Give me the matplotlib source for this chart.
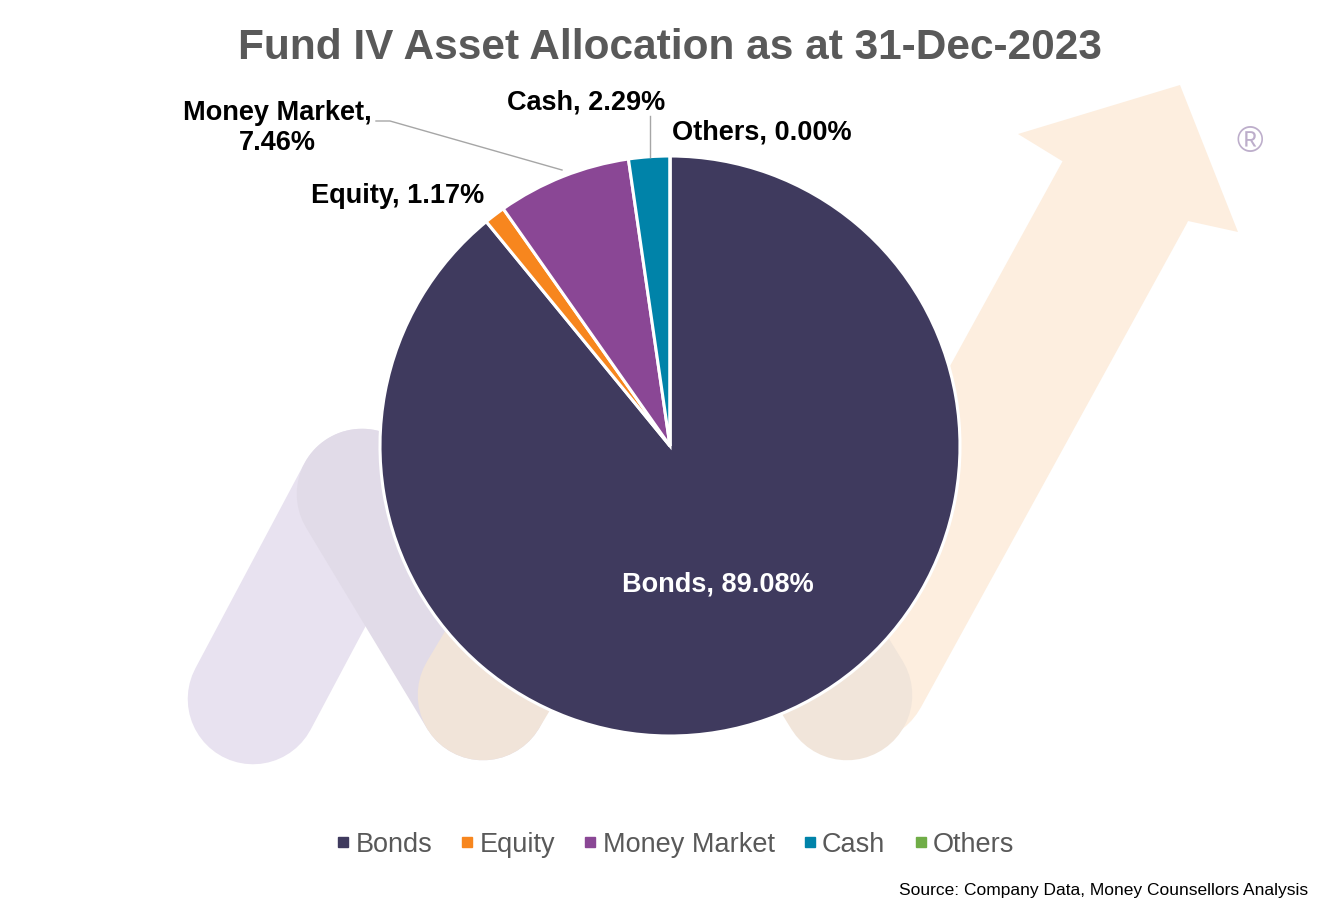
import matplotlib.pyplot as plt
from matplotlib.lines import Line2D

# data
categories = ['Bonds', 'Equity', 'Money Market', 'Cash', 'Others']
values = [89.08, 1.17, 7.46, 2.29, 0.00]
colors = ['#3F3A5E', '#F7861E', '#8A4795', '#0083A9', '#70AD47']
label_text = ['Bonds, 89.08%', 'Equity, 1.17%', 'Money Market,\n7.46%',
              'Cash, 2.29%', 'Others, 0.00%']

W, H = 1343, 920
plt.rcParams['font.family'] = ['Liberation Sans', 'DejaVu Sans']

fig = plt.figure(figsize=(W / 100, H / 100), dpi=100)
ax = fig.add_axes([0, 0, 1, 1])
ax.set_xlim(0, W)
ax.set_ylim(0, H)
ax.axis('off')

# faint logo watermark behind the pie (pixel coords, y from top)
def stroke(p0, p1, col, lw=94):
    ax.plot([p0[0], p1[0]], [H - p0[1], H - p1[1]], color=col,
            lw=lw, solid_capstyle='round', zorder=0)

stroke((253, 700), (362, 495), '#E8E2F0')
stroke((362, 495), (483, 696), '#E1DBE8')
stroke((483, 696), (600, 500), '#F1E4D9')
stroke((860, 675), (1126, 191), '#FDEEDF', lw=100)
stroke((847, 696), (720, 490), '#F1E5DA')
head_x = [1180, 1018, 1062, 1188, 1238]
head_y = [86, 135, 162, 222, 233]
ax.fill(head_x, [H - v for v in head_y], color='#FDEEDF', lw=0, zorder=0)
ax.text(1250, H - 143, '\u00ae', fontsize=26, color='#BDAECB',
        ha='center', va='center', zorder=0)

# pie
cx, cy, R = 670, H - 447, 290
wedges, _ = ax.pie(values, colors=colors, startangle=90, counterclock=False,
                   center=(cx, cy), radius=R,
                   wedgeprops=dict(edgecolor='white', linewidth=2.2))
ax.set_xlim(0, W)
ax.set_ylim(0, H)
ax.set_aspect('equal')

# data labels
label_pos = [(718, 585), (398, 196), (277, 128), (586, 102), (762, 133)]
for i, (x, y) in enumerate(label_pos):
    ax.text(x, H - y, label_text[i], fontsize=19.5, fontweight='bold',
            color='white' if i == 0 else 'black', ha='center', va='center',
            linespacing=1.2)

# leader lines
ax.plot([376, 390, 562], [H - 122, H - 122, H - 171], color='#A6A6A6', lw=1)
ax.plot([650, 650], [H - 117, H - 158], color='#A6A6A6', lw=1)

# title
fig.text(670 / W, 1 - 48 / H, 'Fund IV Asset Allocation as at 31-Dec-2023',
         fontsize=30.5, fontweight='bold', color='#595959',
         ha='center', va='center')

# legend
handles = [Line2D([], [], marker='s', ls='', markersize=6.5, color=c)
           for c in colors]
fig.legend(handles, categories, loc='center', ncol=5,
           bbox_to_anchor=(676 / W, 1 - 845 / H), frameon=False,
           fontsize=19.5, labelcolor='#595959', handlelength=0.4,
           handletextpad=0.25, columnspacing=1.1)

# source note
fig.text(1308 / W, 1 - 891 / H,
         'Source: Company Data, Money Counsellors Analysis',
         fontsize=12.5, color='black', ha='right', va='center')

fig.savefig('out.png', dpi=100)
